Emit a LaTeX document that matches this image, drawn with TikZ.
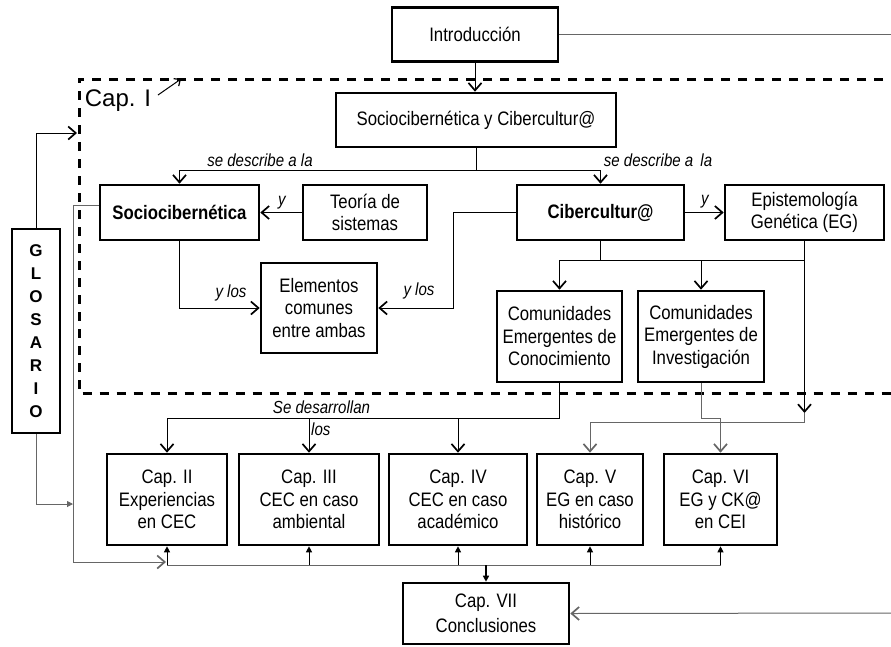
\documentclass[tikz,border=0pt]{standalone}
\usepackage{fontspec}
\setmainfont[FakeStretch=0.86]{Liberation Sans}
\newfontfamily\plainsans{Liberation Sans}
\usetikzlibrary{arrows.meta}

\begin{document}
\begin{tikzpicture}[x=1pt,y=-1pt,
  box/.style={draw, line width=2.6pt, inner sep=2pt, align=center,
              font=\fontsize{19.5}{22.5}\selectfont},
  lbl/.style={font=\fontsize{17.5}{18}\selectfont\itshape, inner sep=0pt},
  conn/.style={line width=1pt},
  grayconn/.style={line width=1pt, draw=black!60},
  vtip/.style={-{Straight Barb[length=7.5pt,width=13pt,line width=1.7pt]}},
  ftip/.style={-{Triangle[length=6pt,width=6pt]}},
]
\clip (0,0) rectangle (891,646);

% Chapter I frame (open towards the right)
\draw[line width=3pt, dash pattern=on 9pt off 8pt] (900,79) -- (79,79) -- (79,393.5) -- (900,393.5);
\node[font=\plainsans\fontsize{24}{24}\selectfont, inner sep=0pt] (capI) at (118,101) {Cap. I};
\coordinate (capItail) at (158,95);
\coordinate (capItip) at (181,79);
\draw[conn, -{Straight Barb[length=5pt,width=9pt,line width=1.2pt]}] (capItail) -- (capItip);

% Boxes
\node[box, minimum width=166pt, minimum height=54pt] (intro) at (475,34.5) {Introducción};
\node[box, minimum width=280pt, minimum height=54pt] (sc) at (476,120) {Sociocibernética y Cibercultur@};
\node[box, minimum width=159pt, minimum height=55pt] (socio) at (179.5,212.5) {\textbf{Sociocibernética}};
\node[box, minimum width=124pt, minimum height=55pt] (teoria) at (365,212.5) {Teoría de\\sistemas};
\node[box, minimum width=167pt, minimum height=55pt] (ciber) at (600.5,212.5) {\textbf{Cibercultur@}};
\node[box, minimum width=159pt, minimum height=55pt] (eg) at (804.5,212.5) {Epistemología\\Genética (EG)};
\node[box, minimum width=116pt, minimum height=90pt] (elem) at (319,308) {Elementos\\comunes\\entre ambas};
\node[box, minimum width=125pt, minimum height=91pt] (cec) at (559.5,336.5) {Comunidades\\Emergentes de\\Conocimiento};
\node[box, minimum width=126pt, minimum height=91pt] (cei) at (701,336.5) {Comunidades\\Emergentes de\\Investigación};
\node[box, minimum width=48pt, minimum height=204pt, font=\plainsans\bfseries\fontsize{17}{23}\selectfont] (glos) at (36,331) {G\\L\\O\\S\\A\\R\\I\\O};
\node[box, minimum width=120pt, minimum height=91pt] (cap2) at (167,499.5) {Cap. II\\Experiencias\\en CEC};
\node[box, minimum width=140pt, minimum height=91pt] (cap3) at (309,499.5) {Cap. III\\CEC en caso\\ambiental};
\node[box, minimum width=138pt, minimum height=91pt] (cap4) at (458,499.5) {Cap. IV\\CEC en caso\\académico};
\node[box, minimum width=106pt, minimum height=91pt] (cap5) at (590,499.5) {Cap. V\\EG en caso\\histórico};
\node[box, minimum width=113pt, minimum height=91pt] (cap6) at (720.5,499.5) {Cap. VI\\EG y CK@\\en CEI};
\node[box, minimum width=166pt, minimum height=61pt, font=\fontsize{19.5}{24.5}\selectfont] (cap7) at (486,613.5) {Cap. VII\\Conclusiones};

% Introduction to chapter I
\draw[conn, vtip] (intro.south) -- (intro.south |- sc.north);
\coordinate (rightTop) at (891,34.5);
\draw[grayconn] (intro.east) -- (rightTop);

% Chapter I
\coordinate (split1) at (476,170);
\draw[conn] (sc.south) -- (split1);
\draw[conn, vtip] (split1) -| (socio.north);
\draw[conn, vtip] (split1) -| (ciber.north);
\node[lbl] (d1) at (260,160) {se describe a la};
\node[lbl] (d2) at (658,160) {se describe a\, la};

\draw[conn, vtip] (teoria.west) -- (socio.east);
\node[lbl] (y1) at (282,203) {y};
\draw[conn, vtip] (ciber.east) -- (eg.west);
\node[lbl] (y2) at (705,202) {y};

\draw[conn, vtip] (socio.south) |- (elem.west);
\node[lbl] (yl1) at (231,293) {y los};
\coordinate (bendA) at (453,308);
\draw[conn, vtip] (ciber.west) -| (bendA) -- (elem.east);
\node[lbl] (yl2) at (419,291) {y los};

\coordinate (split2) at (600.5,260);
\draw[conn] (ciber.south) -- (split2);
\draw[conn, vtip] (split2) -| (cec.north);
\draw[conn, vtip] (split2) -| (cei.north);
\draw[conn] (split2) -- (eg.south |- split2);

% Towards chapters II--VI
\coordinate (egmid) at (804.5,413);
\coordinate (egbend) at (804.5,422);
\draw[conn, vtip] (eg.south) -- (egmid);
\draw[grayconn] (egmid) -- (egbend);
\draw[grayconn, vtip] (egbend) -| (cap5.north);

\coordinate (split3) at (559.5,418);
\draw[conn] (cec.south) -- (split3);
\draw[conn, vtip] (split3) -| (cap2.north);
\draw[conn, vtip] (cap3.north |- split3) -- (cap3.north);
\draw[conn, vtip] (cap4.north |- split3) -- (cap4.north);
\node[lbl] (des) at (321.5,407) {Se desarrollan};
\node[lbl, anchor=west] (los) at (311,429) {los};

\draw[grayconn, vtip] (cei.south) -- (cei.south |- split3) -| (cap6.north);

% Glossary links
\coordinate (frameL) at (77,133);
\draw[conn, vtip] (glos.north) |- (frameL);
\coordinate (leftIn) at (73,504);
\draw[grayconn, ftip] (glos.south) |- (leftIn);

\coordinate (leftTop) at (73,205);
\coordinate (leftBot) at (73,562);
\coordinate (busIn) at (166,562);
\draw[grayconn, vtip] ([yshift=7.5pt]socio.west) -- (leftTop) -- (leftBot) -- (busIn);

% Bus feeding the chapters and the conclusions
\coordinate (bus) at (486,565);
\draw[grayconn] (cap2.south |- bus) -- (cap6.south |- bus);
\foreach \c in {cap2,cap3,cap4,cap5,cap6}
  \draw[conn, ftip] (\c.south |- bus) -- (\c.south);
\draw[line width=1.8pt, ftip] (bus) -- (cap7.north);
\coordinate (rightBot) at (891,613);
\draw[grayconn, vtip] (rightBot) -- (cap7.east);
\end{tikzpicture}
\end{document}
